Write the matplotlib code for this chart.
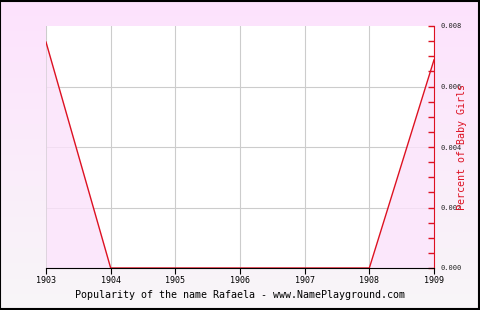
import numpy as np
import matplotlib
matplotlib.use("Agg")
import matplotlib.pyplot as plt
from matplotlib.ticker import MultipleLocator, FormatStrFormatter

years = [1903, 1904, 1905, 1906, 1907, 1908, 1909]
percent = [0.00747, 0.0, 0.0, 0.0, 0.0, 0.0, 0.00688]
title = "Popularity of the name Rafaela - www.NamePlayground.com"
ylabel = "Percent of Baby Girls"

plt.rcParams['font.family'] = ['DejaVu Sans Mono']

fig = plt.figure(figsize=(4.8, 3.1), dpi=100)

# background gradient, pink at the top fading to almost white
bg = fig.add_axes([0, 0, 1, 1], zorder=-10)
top = np.array([253, 226, 253]) / 255
bot = np.array([248, 246, 248]) / 255
t = np.linspace(0, 1, 256)[:, None]
grad = top * (1 - t) + bot * t
bg.imshow(grad[:, None, :], aspect='auto', extent=[0, 1, 0, 1])
bg.set_axis_off()
bg.add_patch(plt.Rectangle((0.001, 0.002), 0.997, 0.995, fill=False,
                           edgecolor='black', linewidth=1.5,
                           transform=bg.transAxes))

ax = fig.add_axes([46 / 480, 42 / 310, 388 / 480, 242 / 310])
ax.set_facecolor('white')
ax.fill_between(years, percent, 0, color='#fbe2fb', alpha=0.8,
                linewidth=0, zorder=1.5)
ax.plot(years, percent, color='#dd1122', linewidth=1.0, zorder=2)

ax.set_xlim(1903, 1909)
ax.set_ylim(0, 0.008)
ax.set_xticks(years)
ax.set_xticklabels([str(y) for y in years], fontsize=6)

ax.yaxis.tick_right()
ax.yaxis.set_label_position('right')
ax.yaxis.set_major_locator(MultipleLocator(0.002))
ax.yaxis.set_minor_locator(MultipleLocator(0.0005))
ax.yaxis.set_major_formatter(FormatStrFormatter('%.3f'))

# vertical grid below the fill, horizontal grid drawn by hand so the
# red y ticks can sit above the fill
ax.grid(True, axis='x', color='#cccccc', linewidth=0.8)
ax.xaxis.set_zorder(1)
ax.yaxis.set_zorder(3)
for yv in ax.get_yticks():
    if 0 < yv < 0.008:
        ax.axhline(yv, color='#cccccc', linewidth=0.8, zorder=1)

ax.tick_params(axis='y', which='both', direction='in', length=4, width=1,
               color='#dd1122', labelsize=5, pad=5, labelcolor='#222222')
ax.tick_params(axis='x', direction='out', length=4, color='black', pad=2)
ax.set_ylabel(ylabel, color='#dd1122', fontsize=7.2, labelpad=-4)

for side in ['top', 'left']:
    ax.spines[side].set_visible(False)
ax.spines['right'].set_color('#dd1122')
ax.spines['bottom'].set_color('black')
for sp in ax.spines.values():
    sp.set_zorder(5)

fig.text(0.5, 0.048, title, ha='center', va='center', fontsize=7.2)

fig.savefig('out.png', dpi=100)
